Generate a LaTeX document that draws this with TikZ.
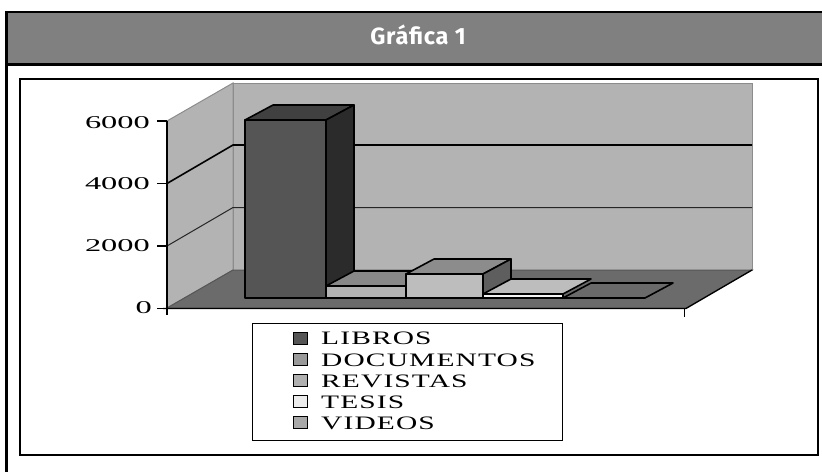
\documentclass[tikz,border=0pt]{standalone}
\usepackage{fontspec}
\newfontfamily\legfont[FakeStretch=1.55, LetterSpace=6]{Liberation Serif}
\newfontfamily\axfont[FakeStretch=1.8]{Liberation Serif}
\newfontfamily\headfont[LetterSpace=3]{Fira Sans}
\definecolor{headgray}{HTML}{808080}
\definecolor{wallgray}{HTML}{B3B3B3}
\definecolor{walledge}{HTML}{8C8C8C}
\definecolor{floorgray}{HTML}{6B6B6B}
\definecolor{libF}{HTML}{555555}
\definecolor{libT}{HTML}{404040}
\definecolor{libS}{HTML}{2B2B2B}
\definecolor{docF}{HTML}{B2B2B2}
\definecolor{docT}{HTML}{888888}
\definecolor{revF}{HTML}{BDBDBD}
\definecolor{revT}{HTML}{8C8C8C}
\definecolor{revS}{HTML}{5E5E5E}
\definecolor{tesF}{HTML}{F2F2F2}
\definecolor{tesT}{HTML}{BDBDBD}
\definecolor{vidT}{HTML}{6A6A6A}
\definecolor{sqLib}{HTML}{555555}
\definecolor{sqDoc}{HTML}{9A9A9A}
\definecolor{sqRev}{HTML}{B0B0B0}
\definecolor{sqTes}{HTML}{ECECEC}
\definecolor{sqVid}{HTML}{A8A8A8}
\tikzset{
  framebox/.style={line width=2pt},
  wallface/.style={fill=wallgray, draw=walledge, line width=1pt},
  barface/.style={draw=black, line width=1.6pt, line join=round},
  gridblack/.style={line width=1.6pt},
  gridthin/.style={line width=1pt, draw=black!85},
  axisline/.style={line width=1.3pt},
  legsq/.style={draw=black, line width=1pt, minimum width=14pt, minimum height=12pt, inner sep=0pt},
  legtext/.style={font=\legfont\fontsize{19}{21}\selectfont, inner sep=0pt, anchor=base west},
  axlabel/.style={font=\axfont\fontsize{18}{20}\selectfont, inner sep=0pt, anchor=base east},
}
\begin{document}
\begin{tikzpicture}[x=1pt,y=-1pt]
\useasboundingbox (0,0) rectangle (822,472);
% header band
\fill[headgray] (5,12) rectangle (822,65);
\draw[line width=2.2pt] (5,12) -- (822,12);
\draw[line width=2.2pt] (5,64.5) -- (822,64.5);
\draw[line width=2.6pt] (6.5,11) -- (6.5,472);
\node[text=white, font=\headfont\bfseries\fontsize{23.5}{27}\selectfont, inner sep=0pt, anchor=base] (title) at (418,44.5) {Gráfica 1};
% inner frame
\draw[framebox] (20,79) rectangle (818,455);
% walls and floor
\path[wallface] (167,308) -- (233,270) -- (233,83) -- (167,121) -- cycle;
\path[wallface] (233,270) -- (752,270) -- (752,83) -- (233,83) -- cycle;
\path[fill=floorgray, draw=floorgray!80!black, line width=1pt] (167,308) -- (686,308) -- (752,270) -- (233,270) -- cycle;
% gridlines
\draw[gridblack] (167,183.5) -- (233,145) -- (752,145);
\draw[gridthin] (167,246) -- (233,207.5) -- (752,207.5);
% bar 1 LIBROS
\path[barface, fill=libF] (245,298) rectangle (326,120);
\path[barface, fill=libT] (245,120) -- (273,105) -- (354,105) -- (326,120) -- cycle;
\path[barface, fill=libS] (326,120) -- (354,105) -- (354,283) -- (326,298) -- cycle;
% bar 2 DOCUMENTOS
\path[barface, fill=docF] (326,298) rectangle (406,286);
\path[barface, fill=docT] (326,286) -- (354,271) -- (434,271) -- (406,286) -- cycle;
% bar 3 REVISTAS
\path[barface, fill=revF] (406,298) rectangle (483,274);
\path[barface, fill=revT] (406,274) -- (434,259) -- (511,259) -- (483,274) -- cycle;
\path[barface, fill=revS] (483,274) -- (511,259) -- (511,283) -- (483,298) -- cycle;
% bar 4 TESIS
\path[barface, fill=tesF] (483,298) rectangle (563,294);
\path[barface, fill=tesT] (483,294) -- (511,279) -- (591,279) -- (563,294) -- cycle;
% bar 5 VIDEOS
\path[barface, fill=vidT] (563,298) -- (591,283) -- (673,283) -- (645,298) -- cycle;
% axes
\draw[axisline] (167,121) -- (167,315);
\draw[axisline] (163,308.5) -- (686,308.5) -- (752,270);
\draw[axisline] (684.5,308) -- (684.5,317);
\foreach \yy in {121,183.5,246,308.5} \draw[axisline] (157,\yy) -- (167,\yy);
% axis labels
\node[axlabel] (l6) at (150,128) {6000};
\node[axlabel] (l4) at (150,189.5) {4000};
\node[axlabel] (l2) at (150,251.5) {2000};
\node[axlabel] (l0) at (152,313) {0};
% legend
\node[draw=black, line width=1.3pt, minimum width=310pt, minimum height=117pt, inner sep=0pt, anchor=north west] (legend) at (252,323) {};
\node[legsq, fill=sqLib] (s1) at (300,338) {};
\node[legsq, fill=sqDoc] (s2) at (300,359.5) {};
\node[legsq, fill=sqRev] (s3) at (300,380.5) {};
\node[legsq, fill=sqTes] (s4) at (300,401.5) {};
\node[legsq, fill=sqVid] (s5) at (300,422.5) {};
\node[legtext] (t1) at (321,344.5) {LIBROS};
\node[legtext] (t2) at (321,366) {DOCUMENTOS};
\node[legtext] (t3) at (321,387) {REVISTAS};
\node[legtext] (t4) at (321,408) {TESIS};
\node[legtext] (t5) at (321,429) {VIDEOS};
\end{tikzpicture}
\end{document}
